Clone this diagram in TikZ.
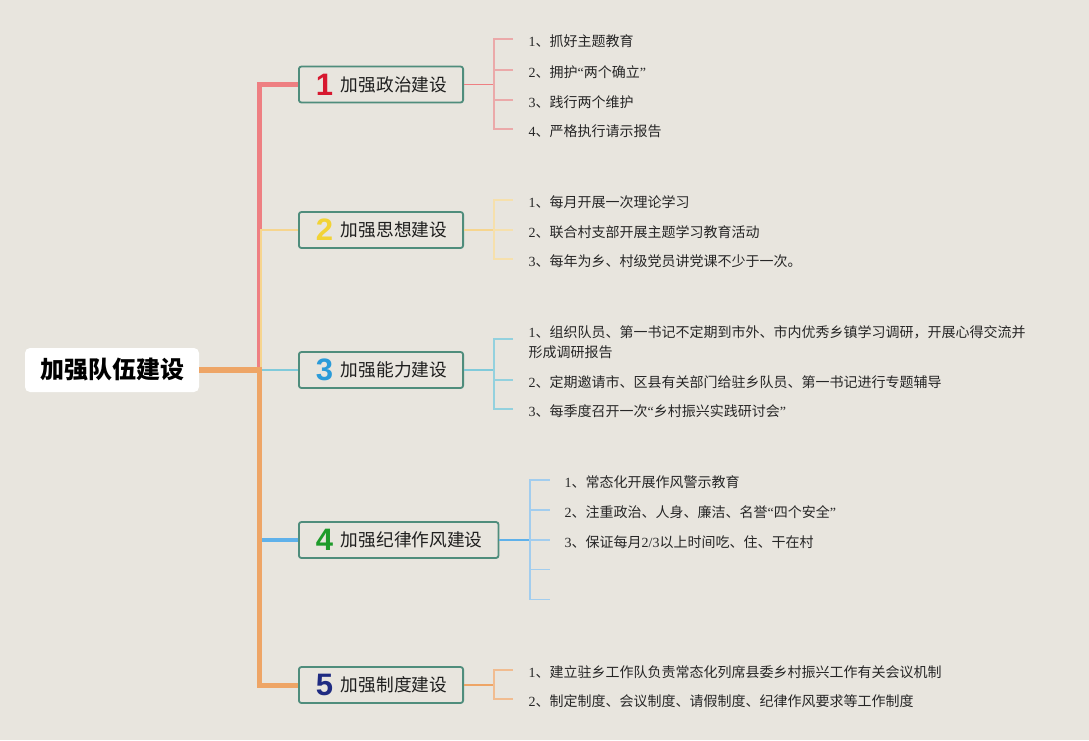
\documentclass[tikz,border=0pt]{standalone}
\usepackage{fontspec}
\setmainfont{Liberation Serif}
\newfontfamily\cjk{Noto Sans CJK SC}
\newfontfamily\numfont{Liberation Sans}
\definecolor{bg}{HTML}{E8E5DE}
\definecolor{boxc}{HTML}{4F8D7C}
\definecolor{cred}{HTML}{EE7F82}
\definecolor{credl}{HTML}{EBA9A9}
\definecolor{cyel}{HTML}{F6D58E}
\definecolor{cyell}{HTML}{F6E0AC}
\definecolor{ccya}{HTML}{80CADA}
\definecolor{ccyal}{HTML}{93D1DE}
\definecolor{cblu}{HTML}{5FB1EA}
\definecolor{cblul}{HTML}{A2CDEE}
\definecolor{cora}{HTML}{EEA566}
\definecolor{coral}{HTML}{F1BC90}
\definecolor{n1}{HTML}{D7182F}
\definecolor{n2}{HTML}{F2D335}
\definecolor{n3}{HTML}{2A9BD9}
\definecolor{n4}{HTML}{1E9B2B}
\definecolor{n5}{HTML}{1F2B82}
\newcommand\topicnum[2]{\kern18pt\raisebox{-4pt}{\numfont\bfseries\fontsize{31}{31}\selectfont\color{#1}\makebox[15pt]{#2}}\kern9pt}
\newcommand\topictext[1]{#1\kern16pt}
\begin{document}
\begin{tikzpicture}[x=1pt,y=-1pt,
  topic/.style={draw=boxc, line width=1.8pt, rounded corners=2.5pt, fill=bg,
    minimum height=36pt, inner xsep=0pt, inner ysep=0pt, anchor=west,
    font=\cjk\fontsize{17.7}{20}\selectfont, text=black!88},
  item/.style={anchor=west, inner xsep=15.5pt, inner ysep=0pt,
    font=\fontsize{14}{20}\selectfont, text=black!85, align=left},
  item4/.style={item, inner xsep=14.5pt},
  sub/.style={line width=1.4pt}
]
\fill[bg] (0,0) rectangle (1089,740);

% root
\node[fill=white, rounded corners=5pt, minimum width=174pt, minimum height=44pt,
  font=\cjk\bfseries\fontsize{24}{26}\selectfont, text=black] (root) at (112,370) {加强队伍建设};

% topics
\node[topic] (b1) at (298,84.5) {\topicnum{n1}{1}\topictext{加强政治建设}};
\node[topic] (b2) at (298,230) {\topicnum{n2}{2}\topictext{加强思想建设}};
\node[topic] (b3) at (298,370) {\topicnum{n3}{3}\topictext{加强能力建设}};
\node[topic] (b4) at (298,540) {\topicnum{n4}{4}\topictext{加强纪律作风建设}};
\node[topic] (b5) at (298,685) {\topicnum{n5}{5}\topictext{加强制度建设}};

% trunk
\coordinate (j) at (259.5,370);
\coordinate (jy) at (261,370);
\coordinate (jc) at (262,370);
\draw[cred, line width=5pt] (j) |- (b1.west);
\draw[cyel, line width=1.5pt] (jy) |- (b2.west);
\draw[cblu, line width=4pt] (j) |- (b4.west);
\draw[cora, line width=5pt] (j) |- (b5.west);
\draw[cora, line width=6pt] (root.east) -- (jc);
\draw[ccya, line width=1.8pt] (jc) -- (b3.west);

% branch 1
\coordinate (k1) at (494,84.5);
\node[item] (i11) at (513,41) {1\cjk 、抓好主题教育};
\node[item] (i12) at (513,72) {2\cjk 、拥护{\rmfamily “}两个确立{\rmfamily ”}};
\node[item] (i13) at (513,102) {3\cjk 、践行两个维护};
\node[item] (i14) at (513,131) {4\cjk 、严格执行请示报告};
\draw[cred, line width=1.8pt] (b1.east) -- (k1);
\draw[credl, sub] (k1) |- ([yshift=2pt]i11.west) (k1) |- ([yshift=2pt]i12.west)
  (k1) |- ([yshift=2pt]i13.west) (k1) |- ([yshift=2pt]i14.west);

% branch 2
\coordinate (k2) at (494,230);
\node[item] (i21) at (513,202) {1\cjk 、每月开展一次理论学习};
\node[item] (i22) at (513,232) {2\cjk 、联合村支部开展主题学习教育活动};
\node[item] (i23) at (513,261) {3\cjk 、每年为乡、村级党员讲党课不少于一次。};
\draw[cyel, line width=1.8pt] (b2.east) -- (k2);
\draw[cyell, sub] (k2) |- ([yshift=2pt]i21.west) (k2) |- ([yshift=2pt]i22.west)
  (k2) |- ([yshift=2pt]i23.west);

% branch 3
\coordinate (k3) at (494,370);
\node[item] (i31) at (513,342) {1\cjk 、组织队员、第一书记不定期到市外、市内优秀乡镇学习调研，开展心得交流并\\\cjk 形成调研报告};
\node[item] (i32) at (513,382) {2\cjk 、定期邀请市、区县有关部门给驻乡队员、第一书记进行专题辅导};
\node[item] (i33) at (513,411) {3\cjk 、每季度召开一次{\rmfamily “}乡村振兴实践研讨会{\rmfamily ”}};
\draw[ccya, line width=1.8pt] (b3.east) -- (k3);
\draw[ccyal, sub] (k3) |- ([yshift=3pt]i31.west) (k3) |- ([yshift=2pt]i32.west)
  (k3) |- ([yshift=2pt]i33.west);

% branch 4
\coordinate (k4) at (530,540);
\node[item4] (i41) at (550,482) {1\cjk 、常态化开展作风警示教育};
\node[item4] (i42) at (550,512) {2\cjk 、注重政治、人身、廉洁、名誉{\rmfamily “}四个安全{\rmfamily ”}};
\node[item4] (i43) at (550,542) {3\cjk 、保证每月{\rmfamily 2/3}以上时间吃、住、干在村};
\coordinate (e44) at (550,569.5);
\coordinate (e45) at (550,599.5);
\draw[cblu, line width=1.8pt] (b4.east) -- (k4);
\draw[cblul, sub] (k4) |- ([yshift=2pt]i41.west) (k4) |- ([yshift=2pt]i42.west)
  (k4) |- ([yshift=2pt]i43.west) (k4) |- (e44) (k4) |- (e45);

% branch 5
\coordinate (k5) at (494,685);
\node[item] (i51) at (513,672) {1\cjk 、建立驻乡工作队负责常态化列席县委乡村振兴工作有关会议机制};
\node[item] (i52) at (513,701) {2\cjk 、制定制度、会议制度、请假制度、纪律作风要求等工作制度};
\draw[cora, line width=1.8pt] (b5.east) -- (k5);
\draw[coral, sub] (k5) |- ([yshift=2pt]i51.west) (k5) |- ([yshift=2pt]i52.west);
\end{tikzpicture}
\end{document}
